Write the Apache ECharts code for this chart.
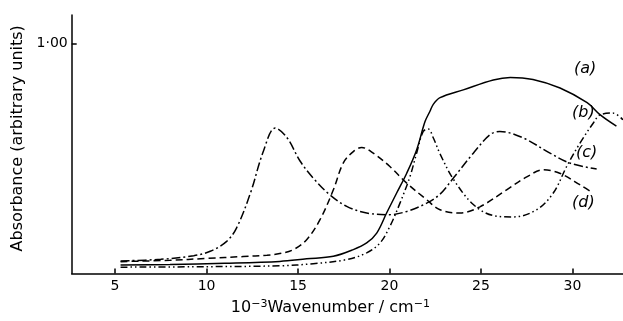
<!DOCTYPE html>
<html>
<head>
<meta charset="utf-8">
<script src="https://cdn.jsdelivr.net/npm/echarts@6/dist/echarts.min.js"></script>
<style>
html,body{margin:0;padding:0;background:#fff;}
#chart{width:623px;height:321px;}
</style>
</head>
<body>
<div id="chart"></div>
<script>
// x values in 10^3 cm^-1, y values absorbance (arbitrary units)
var aX = [5.3, 8, 11, 14, 15.47, 16.93, 18.02, 18.75, 19.3, 19.84, 20.39, 20.94, 21.48, 21.94, 22.21, 22.39, 22.76, 24.03, 25.67, 26.6, 27.84, 29.32, 30.8, 31.5, 32.4];
var aY = [0.037, 0.04, 0.045, 0.053, 0.064, 0.075, 0.104, 0.133, 0.176, 0.263, 0.35, 0.436, 0.537, 0.66, 0.705, 0.735, 0.764, 0.798, 0.841, 0.852, 0.843, 0.806, 0.742, 0.69, 0.64];

var bX = [5.3, 10, 14, 15.83, 17.66, 18.75, 19.48, 20.02, 20.57, 21.12, 21.48, 21.84, 22.12, 22.39, 22.76, 23.49, 24.58, 25.67, 26.76, 28.04, 28.95, 29.68, 30.41, 31.13, 31.5, 32.2, 32.76];
var bY = [0.028, 0.03, 0.034, 0.043, 0.061, 0.09, 0.133, 0.205, 0.306, 0.422, 0.523, 0.617, 0.628, 0.59, 0.52, 0.41, 0.3, 0.252, 0.246, 0.277, 0.35, 0.465, 0.567, 0.653, 0.689, 0.697, 0.668];

var cX = [5.3, 7.5, 9.3, 10.2, 11.1, 11.65, 12.4, 13.1, 13.75, 14.4, 15.1, 15.83, 16.74, 17.66, 18.75, 20.0, 20.94, 22.03, 22.76, 23.49, 24.58, 25.49, 26.03, 27.31, 28.77, 29.86, 31.32];
var cY = [0.055, 0.062, 0.078, 0.097, 0.14, 0.2, 0.35, 0.53, 0.632, 0.59, 0.49, 0.415, 0.342, 0.292, 0.263, 0.256, 0.27, 0.306, 0.345, 0.415, 0.523, 0.603, 0.617, 0.589, 0.523, 0.48, 0.454];

var dX = [5.3, 8, 10, 12, 13.3, 14.0, 14.74, 15.47, 16.2, 16.93, 17.47, 18.02, 18.48, 19.11, 20.02, 20.94, 22.03, 22.76, 23.85, 24.94, 26.4, 27.5, 28.4, 29.3, 30.4, 31.1];
var dY = [0.052, 0.058, 0.066, 0.074, 0.08, 0.087, 0.104, 0.147, 0.234, 0.364, 0.48, 0.53, 0.548, 0.523, 0.465, 0.393, 0.321, 0.277, 0.263, 0.29, 0.364, 0.42, 0.451, 0.436, 0.386, 0.35];

var xTicks = [5, 10, 15, 20, 25, 30];
var yTicks = [1.0];
var curveLabels = ['(a)', '(b)', '(c)', '(d)'];

function zip(xs, ys) { return xs.map(function (x, i) { return [x, ys[i]]; }); }

var FONT = 'DejaVu Sans';
var chart = echarts.init(document.getElementById('chart'), null, {renderer: 'canvas'});

function lineSeries(name, xs, ys, dash) {
  return {
    name: name, type: 'line', data: zip(xs, ys), smooth: 0.35,
    symbol: 'none', animation: false,
    lineStyle: {color: '#000', width: 1.5, type: dash}
  };
}

chart.setOption({
  backgroundColor: '#fff',
  animation: false,
  grid: {left: 71.7, right: 0, top: 15, bottom: 47},
  xAxis: {
    type: 'value', min: 2.63, max: 32.76,
    name: '{n|10}{s|−3}{n|Wavenumber / cm}{s|−1}',
    nameLocation: 'middle', nameGap: 24,
    nameTextStyle: {
      padding: [0, 34, 0, 0],
      rich: {
        n: {fontFamily: FONT, fontSize: 16, color: '#000'},
        s: {fontFamily: FONT, fontSize: 11, color: '#000', verticalAlign: 'top', padding: [0, 0, 8, 0]}
      }
    },
    axisLine: {lineStyle: {color: '#000', width: 1.5}},
    axisTick: {inside: true, length: 5, lineStyle: {color: '#000', width: 1.5}, customValues: xTicks},
    axisLabel: {customValues: xTicks, color: '#000', fontFamily: FONT, fontSize: 14, margin: 6},
    splitLine: {show: false}
  },
  yAxis: {
    type: 'value', min: 0, max: 1.123,
    name: 'Absorbance (arbitrary units)',
    nameLocation: 'middle', nameGap: 44, nameRotate: 90,
    nameTextStyle: {fontFamily: FONT, fontSize: 16, color: '#000', padding: [0, 0, 0, 12]},
    axisLine: {lineStyle: {color: '#000', width: 1.5}},
    axisTick: {inside: true, length: 5, lineStyle: {color: '#000', width: 1.5}, customValues: yTicks},
    axisLabel: {customValues: yTicks, color: '#000', fontFamily: FONT, fontSize: 14, margin: 4,
      formatter: function (v) { return v.toFixed(2).replace('.', '·'); }},
    splitLine: {show: false}
  },
  series: [
    lineSeries('a', aX, aY, 'solid'),
    lineSeries('b', bX, bY, [7, 3, 1.5, 3, 1.5, 3]),
    lineSeries('c', cX, cY, [9, 3, 2, 3]),
    lineSeries('d', dX, dY, [7, 4])
  ],
  graphic: [
    {type: 'text', left: 574, top: 61, style: {text: curveLabels[0], font: 'oblique 16px ' + FONT, fill: '#000'}},
    {type: 'text', left: 572, top: 105, style: {text: curveLabels[1], font: 'oblique 16px ' + FONT, fill: '#000'}},
    {type: 'text', left: 576, top: 145, style: {text: curveLabels[2], font: 'oblique 16px ' + FONT, fill: '#000'}},
    {type: 'text', left: 572, top: 195, style: {text: curveLabels[3], font: 'oblique 16px ' + FONT, fill: '#000'}}
  ]
});
</script>
</body>
</html>
